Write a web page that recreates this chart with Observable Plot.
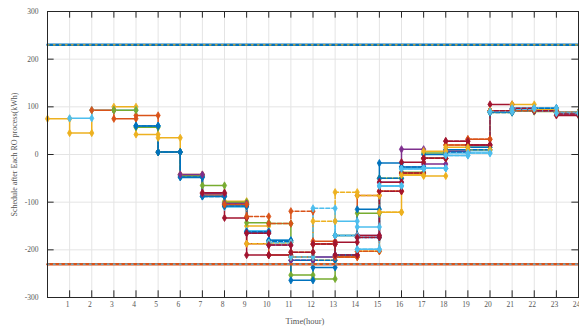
<!DOCTYPE html>
<html>
<head>
<meta charset="utf-8">
<script src="https://cdn.jsdelivr.net/npm/d3@7"></script>
<script src="https://cdn.jsdelivr.net/npm/@observablehq/plot@0.6"></script>
<style>
  body { margin: 0; background: #fff; }
  svg { display: block; }
</style>
</head>
<body>
<div id="chart"></div>
<script>
// Hourly schedules (kWh) produced after each RO run; null = hour not covered by that run.
const hourTicks = d3.range(1, 25);
const valueTicks = [-300, -200, -100, 0, 100, 200, 300];
const upperLimit = 230;
const lowerLimit = -230;

const runA = [75, 45, 93, 100, 42, 35, -42, -82, -98, -150, -185, -215, -222, -215, -203, -121, -43, -45];
const runB = [null, 76, 93, 93, 60, 5, -45, -85, -110, -160, -180, -215, -215, -140, -152, -66, -30, -29, 3, 8, 90, 95, 92, 87];
const runC = [null, null, 93, 75, 82, 5, -43, -85, -105, -187, -211, -205, -182, -215, -86, -77, -39, -8, 20, 32, 92, 92, 92, 88];
const runD = [null, null, null, 93, 57, 5, -45, -65, -100, -143, -145, -253, -261, -170, -123, -50, -37, 3, 10, 15, 88, 92, 90, 88];
const runE = [null, null, null, null, 60, 5, -48, -88, -108, -163, -180, -264, -237, -170, -115, -18, -26, 0, 10, 15, 90, 97, 97, 88];
const runF = [null, null, null, null, 60, 5, -47, -88, -108, -162, -182, -222, -222, -211, -174, -50, -26, -8, 5, 10, 88, 92, 97, 88];
const runG = [null, null, null, null, null, null, -42, -82, -103, -165, -190, -222, -215, -211, -170, -58, 11, -20, 7, 20, 92, 95, 92, 85];
const runH = [null, null, null, null, null, null, null, -80, -133, -211, -211, -215, -188, -184, -170, -58, -16, -8, 28, 20, 105, 95, 92, 82];
const runI = [null, null, null, null, null, null, null, null, -105, -130, -145, -119, -188, -215, -203, -77, -39, -8, 20, 32, 92, 92, 92, 88];
const runJ = [null, null, null, null, null, null, null, null, null, -187, -185, -215, -140, -79, -86, -121];
const runK = [null, null, null, null, null, null, null, null, null, null, -185, -215, -113, -170, -199, -66, -30, -29, -2, 3, 90, 95, 92, 87];
const runL = [null, null, null, null, null, null, null, null, null, -165, -190, -205, -188, -211, -174, -77, -39, -8, 28, 20, 92, 97, 92, 85];
const runM = [null, null, null, null, null, null, null, null, null, null, null, null, null, null, null, null, -43, 7, 15, 10, 92, 105, 95, 88];
const runN = [null, null, null, null, null, null, null, null, null, null, null, null, null, null, -199, -66, -30, -29, -2, 3, 90, 97, 97, 87];

const runs = [
  ["A", runA], ["B", runB], ["C", runC], ["D", runD], ["E", runE], ["F", runF], ["G", runG],
  ["H", runH], ["I", runI], ["J", runJ], ["K", runK], ["L", runL], ["M", runM], ["N", runN]
];

// Line colour and dash for each run
const look = {
  A: {color: "#EDB120", dashed: false},
  B: {color: "#4DBEEE", dashed: false},
  C: {color: "#D95319", dashed: false},
  D: {color: "#77AC30", dashed: false},
  E: {color: "#0072BD", dashed: false},
  F: {color: "#0072BD", dashed: true},
  G: {color: "#7E2F8E", dashed: false},
  H: {color: "#A2142F", dashed: false},
  I: {color: "#D95319", dashed: true},
  J: {color: "#EDB120", dashed: true},
  K: {color: "#4DBEEE", dashed: true},
  L: {color: "#A2142F", dashed: true},
  M: {color: "#EDB120", dashed: false},
  N: {color: "#4DBEEE", dashed: false}
};

// Stair path points (each value holds until the next hour) and corner markers
const stairs = [];
const corners = [];
for (const [id, values] of runs) {
  let last = null;
  values.forEach((v, h) => {
    if (v == null) return;
    stairs.push({id, h, v});
    corners.push({id, h, v}, {id, h: h + 1, v});
    last = {h, v};
  });
  stairs.push({id, h: last.h + 1, v: last.v});
}
const colorOf = d => look[d.id].color;
const solid = d => !look[d.id].dashed;
const dashed = d => look[d.id].dashed;

const limits = [
  {h: 0, v: upperLimit, k: "up"}, {h: 24, v: upperLimit, k: "up"},
  {h: 0, v: lowerLimit, k: "low"}, {h: 24, v: lowerLimit, k: "low"}
];

const textGray = "#555555";

const chart = Plot.plot({
  width: 579,
  height: 331,
  marginLeft: 47,
  marginRight: 1,
  marginTop: 11,
  marginBottom: 34,
  style: {fontFamily: "'Liberation Serif', serif", fontSize: "7.5px", color: textGray, background: "#fff"},
  x: {domain: [0, 24], axis: null},
  y: {domain: [-300, 300], axis: null},
  marks: [
    Plot.ruleX(hourTicks, {stroke: "#e4e4e4", strokeWidth: 1}),
    Plot.ruleY(valueTicks, {stroke: "#e4e4e4", strokeWidth: 1}),
    Plot.line(stairs.filter(solid), {x: "h", y: "v", z: "id", stroke: colorOf, curve: "step-after", strokeWidth: 1.5}),
    Plot.line(stairs.filter(dashed), {x: "h", y: "v", z: "id", stroke: colorOf, curve: "step-after", strokeWidth: 1.5, strokeDasharray: "4,2"}),
    Plot.dot(corners, {x: "h", y: "v", symbol: "diamond", r: 2.2, fill: colorOf, stroke: colorOf, strokeWidth: 0.8}),
    // Upper and lower limits
    Plot.line(limits.filter(d => d.k === "up"), {x: "h", y: "v", stroke: "#0072BD", strokeWidth: 2.5}),
    Plot.line(limits.filter(d => d.k === "up"), {x: "h", y: "v", stroke: "#EDB120", strokeWidth: 1.4, strokeDasharray: "1.5,4.5"}),
    Plot.line(limits.filter(d => d.k === "low"), {x: "h", y: "v", stroke: "#D95319", strokeWidth: 2.5}),
    Plot.line(limits.filter(d => d.k === "low"), {x: "h", y: "v", stroke: "#4DBEEE", strokeWidth: 1.4, strokeDasharray: "1.5,4.5"}),
    // Inward tick marks on all four sides
    Plot.ruleX(hourTicks, {y1: -300, y2: -286, stroke: "#262626", strokeWidth: 1}),
    Plot.ruleX(hourTicks, {y1: 300, y2: 286, stroke: "#262626", strokeWidth: 1}),
    Plot.ruleY(valueTicks, {x1: 0, x2: 0.3, stroke: "#262626", strokeWidth: 1}),
    Plot.ruleY(valueTicks, {x1: 24, x2: 23.7, stroke: "#262626", strokeWidth: 1}),
    Plot.frame({stroke: "#262626", strokeWidth: 1}),
    Plot.axisX(hourTicks, {tickSize: 0, tickPadding: 4, dx: -2, fill: textGray, tickFormat: d => String(d), label: null}),
    Plot.axisY(valueTicks, {tickSize: 0, tickPadding: 9, fill: textGray, tickFormat: d => String(d), label: null}),
    Plot.text(["Schedule after Each RO process(kWh)"], {frameAnchor: "left", rotate: -90, dx: -33, textAnchor: "middle", fontSize: 8, fill: textGray}),
    Plot.text(["Time(hour)"], {frameAnchor: "bottom", dy: 24, dx: -8, lineAnchor: "middle", fontSize: 8.5, fill: textGray})
  ]
});

document.getElementById("chart").appendChild(chart);
</script>
</body>
</html>
